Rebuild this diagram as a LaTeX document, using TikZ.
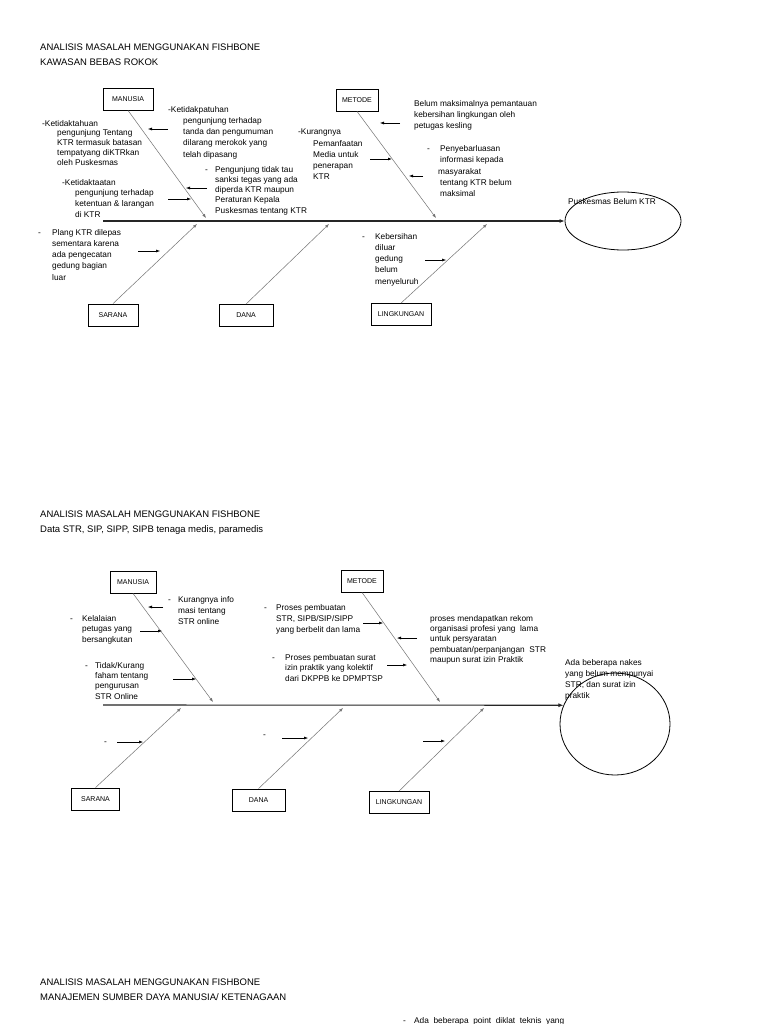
\documentclass[tikz,border=0pt]{standalone}
\usepackage{fontspec}
\setmainfont{Liberation Sans}
\usetikzlibrary{arrows.meta,shapes.geometric}
\newcommand\dl[1]{\makebox[#1][l]{-}}
\newcommand\ind[1]{\hspace*{#1}}
\begin{document}
\begin{tikzpicture}[x=1pt,y=-1pt,
  box/.style={draw, line width=0.8pt, minimum height=22pt, inner sep=0pt, font=\fontsize{7}{8}\selectfont},
  bone/.style={draw=black!55, line width=0.5pt, -{Latex[length=4pt,width=3pt]}},
  spine/.style={draw=black!85, line width=1.1pt, -{Latex[length=5pt,width=4pt]}},
  tarr/.style={draw=black, line width=0.5pt, -{Latex[length=4pt,width=3pt]}},
  txt/.style={anchor=north west, inner sep=0pt, align=left, font=\fontsize{8.3}{11}\selectfont},
  ttl/.style={anchor=base west, inner sep=0pt, font=\fontsize{9.5}{11}\selectfont},
  effect/.style={draw, ellipse, line width=0.8pt, inner sep=0pt},
]
\fill[white] (0,0) rectangle (768,1024);
\useasboundingbox (0,0) rectangle (768,1024);

%% ===================== DIAGRAM 1 =====================
\node[ttl] (t1) at (40,50.4) {ANALISIS MASALAH MENGGUNAKAN FISHBONE};
\node[ttl] (s1) at (40,65.4) {KAWASAN BEBAS ROKOK};

\node[box, minimum width=50pt] (man1) at (128,99) {MANUSIA};
\node[box, minimum width=42pt] (met1) at (357,100) {METODE};
\node[box, minimum width=50pt] (sar1) at (113,315) {SARANA};
\node[box, minimum width=54pt] (dan1) at (246,315.5) {DANA};
\node[box, minimum width=60pt] (lin1) at (401,314.5) {LINGKUNGAN};
\node[effect, minimum width=116pt, minimum height=58pt] (eff1) at (623,221) {};
\node[txt] (e1l) at (568,198) {Puskesmas Belum KTR};

\coordinate (h1) at (103,221);
\draw[spine] (h1) -- (eff1.west);
\coordinate (b1m) at (206,218);
\coordinate (b1t) at (436,218);
\coordinate (b1s) at (197,224);
\coordinate (b1d) at (329,224);
\coordinate (b1l) at (487,224);
\draw[bone] (man1.south) -- (b1m);
\draw[bone] (met1.south) -- (b1t);
\draw[bone] (sar1.north) -- (b1s);
\draw[bone] (dan1.north) -- (b1d);
\draw[bone] (lin1.north) -- (b1l);

\node[txt, font=\fontsize{8.3}{9.75}\selectfont] (tx1) at (42,120) {-Ketidaktahuan\\\ind{15pt}pengunjung Tentang\\\ind{15pt}KTR termasuk batasan\\\ind{15pt}tempatyang diKTRkan\\\ind{15pt}oleh Puskesmas};
\node[txt, font=\fontsize{8.3}{11.25}\selectfont] (tx2) at (168,106) {-Ketidakpatuhan\\\ind{15pt}pengunjung terhadap\\\ind{15pt}tanda dan pengumuman\\\ind{15pt}dilarang merokok yang\\\ind{15pt}telah dipasang};
\node[txt, font=\fontsize{8.3}{10.7}\selectfont] (tx3) at (62,179) {-Ketidaktaatan\\\ind{13pt}pengunjung terhadap\\\ind{13pt}ketentuan \& larangan\\\ind{13pt}di KTR};
\node[txt, font=\fontsize{8.3}{10.25}\selectfont] (tx4) at (205,166) {\dl{10pt}Pengunjung tidak tau\\\ind{10pt}sanksi tegas yang ada\\\ind{10pt}diperda KTR maupun\\\ind{10pt}Peraturan Kepala\\\ind{10pt}Puskesmas tentang KTR};
\node[txt, font=\fontsize{8.3}{11.25}\selectfont] (tx5) at (38,229) {\dl{14pt}Plang KTR dilepas\\\ind{14pt}sementara karena\\\ind{14pt}ada pengecatan\\\ind{14pt}gedung bagian\\\ind{14pt}luar};
\node[txt, font=\fontsize{8.3}{11.25}\selectfont] (tx6) at (298,129) {-Kurangnya\\\ind{15pt}Pemanfaatan\\\ind{15pt}Media untuk\\\ind{15pt}penerapan\\\ind{15pt}KTR};
\node[txt, font=\fontsize{8.3}{11}\selectfont] (tx7) at (414,100) {Belum maksimalnya pemantauan\\kebersihan lingkungan oleh\\petugas kesling};
\node[txt, font=\fontsize{8.3}{11.4}\selectfont] (tx8) at (427,145) {\dl{13pt}Penyebarluasan\\\ind{13pt}informasi kepada\\\ind{11pt}masyarakat\\\ind{13pt}tentang KTR belum\\\ind{13pt}maksimal};
\node[txt, font=\fontsize{8.3}{11.25}\selectfont] (tx9) at (362,233) {\dl{13pt}Kebersihan\\\ind{13pt}diluar\\\ind{13pt}gedung\\\ind{13pt}belum\\\ind{13pt}menyeluruh};

\coordinate (a1s) at (168,129); \coordinate (a1e) at (148,129);
\coordinate (a2s) at (168,199); \coordinate (a2e) at (191,199);
\coordinate (a3s) at (207,188); \coordinate (a3e) at (186,188);
\coordinate (a4s) at (138,251); \coordinate (a4e) at (160,251);
\coordinate (a5s) at (370,159); \coordinate (a5e) at (392,159);
\coordinate (a6s) at (400,123); \coordinate (a6e) at (380,123);
\coordinate (a7s) at (423,176); \coordinate (a7e) at (409,176);
\coordinate (a8s) at (425,260); \coordinate (a8e) at (446,260);
\draw[tarr] (a1s) -- (a1e);
\draw[tarr] (a2s) -- (a2e);
\draw[tarr] (a3s) -- (a3e);
\draw[tarr] (a4s) -- (a4e);
\draw[tarr, line width=0.9pt] (a5s) -- (a5e);
\draw[tarr] (a6s) -- (a6e);
\draw[tarr] (a7s) -- (a7e);
\draw[tarr] (a8s) -- (a8e);

%% ===================== DIAGRAM 2 =====================
\node[ttl] (t2) at (40,517.4) {ANALISIS MASALAH MENGGUNAKAN FISHBONE};
\node[ttl] (s2) at (40,532.4) {Data STR, SIP, SIPP, SIPB tenaga medis, paramedis};

\node[box, minimum width=46pt] (man2) at (133,582) {MANUSIA};
\node[box, minimum width=42pt] (met2) at (362,581) {METODE};
\node[box, minimum width=48pt] (sar2) at (95.5,799) {SARANA};
\node[box, minimum width=53pt] (dan2) at (258.5,800) {DANA};
\node[box, minimum width=60pt] (lin2) at (399,802.5) {LINGKUNGAN};
\node[effect, minimum width=110pt, minimum height=102pt] (eff2) at (615,724) {};

\coordinate (h2) at (103,705);
\draw[spine] (h2) -- (eff2.160);
\coordinate (b2m) at (213,702);
\coordinate (b2t) at (440,702);
\coordinate (b2s) at (181,708);
\coordinate (b2d) at (343,708);
\coordinate (b2l) at (484,708);
\draw[bone] (man2.south) -- (b2m);
\draw[bone] (met2.south) -- (b2t);
\draw[bone] (sar2.north) -- (b2s);
\draw[bone] (dan2.north) -- (b2d);
\draw[bone] (lin2.north) -- (b2l);

\node[txt, font=\fontsize{8.3}{11}\selectfont] (cx1) at (168,596) {\dl{10pt}Kurangnya info\\\ind{10pt}masi tentang\\\ind{10pt}STR online};
\node[txt, font=\fontsize{8.3}{10.5}\selectfont] (cx2) at (70,615) {\dl{12pt}Kelalaian\\\ind{12pt}petugas yang\\\ind{12pt}bersangkutan};
\node[txt, font=\fontsize{8.3}{10.3}\selectfont] (cx3) at (85,662) {\dl{10pt}Tidak/Kurang\\\ind{10pt}faham tentang\\\ind{10pt}pengurusan\\\ind{10pt}STR Online};
\node[txt, font=\fontsize{8.3}{11}\selectfont] (cx4) at (264,604) {\dl{12pt}Proses pembuatan\\\ind{12pt}STR, SIPB/SIP/SIPP\\\ind{12pt}yang berbelit dan lama};
\node[txt, font=\fontsize{8.3}{10.3}\selectfont] (cx5) at (430,615) {proses mendapatkan rekom\\organisasi profesi yang\ \ lama\\untuk persyaratan\\pembuatan/perpanjangan\ \ STR\\maupun surat izin Praktik};
\node[txt, font=\fontsize{8.3}{10.5}\selectfont] (cx6) at (272,654) {\dl{13pt}Proses pembuatan surat\\\ind{13pt}izin praktik yang kolektif\\\ind{13pt}dari DKPPB ke DPMPTSP};
\node[txt, font=\fontsize{8.3}{11}\selectfont] (cx7) at (565,659) {Ada beberapa nakes\\yang belum mempunyai\\STR, dan surat izin\\praktik};
\node[anchor=base west, inner sep=0pt, font=\fontsize{8.3}{11}\selectfont] (cd1) at (104,744) {-};
\node[anchor=base west, inner sep=0pt, font=\fontsize{8.3}{11}\selectfont] (cd2) at (263,737) {-};

\coordinate (c1s) at (163,607); \coordinate (c1e) at (148,607);
\coordinate (c2s) at (140,631); \coordinate (c2e) at (162,631);
\coordinate (c3s) at (173,679); \coordinate (c3e) at (196,679);
\coordinate (c4s) at (363,623); \coordinate (c4e) at (383,623);
\coordinate (c5s) at (417,638); \coordinate (c5e) at (397,638);
\coordinate (c6s) at (387,665); \coordinate (c6e) at (407,665);
\coordinate (c7s) at (117,742); \coordinate (c7e) at (143,742);
\coordinate (c8s) at (282,738); \coordinate (c8e) at (308,738);
\coordinate (c9s) at (423,741); \coordinate (c9e) at (445,741);
\draw[tarr] (c1s) -- (c1e);
\draw[tarr] (c2s) -- (c2e);
\draw[tarr] (c3s) -- (c3e);
\draw[tarr] (c4s) -- (c4e);
\draw[tarr] (c5s) -- (c5e);
\draw[tarr] (c6s) -- (c6e);
\draw[tarr] (c7s) -- (c7e);
\draw[tarr] (c8s) -- (c8e);
\draw[tarr] (c9s) -- (c9e);

%% ===================== DIAGRAM 3 (start) =====================
\node[ttl] (t3) at (40,985.4) {ANALISIS MASALAH MENGGUNAKAN FISHBONE};
\node[ttl] (s3) at (40,1000.4) {MANAJEMEN SUMBER DAYA MANUSIA/ KETENAGAAN};
\node[txt, font=\fontsize{8.3}{11}\selectfont] (bx1) at (403,1017) {\dl{11pt}Ada\ \ beberapa\ \ point\ \ diklat\ \ teknis\ \ yang};
\end{tikzpicture}
\end{document}
